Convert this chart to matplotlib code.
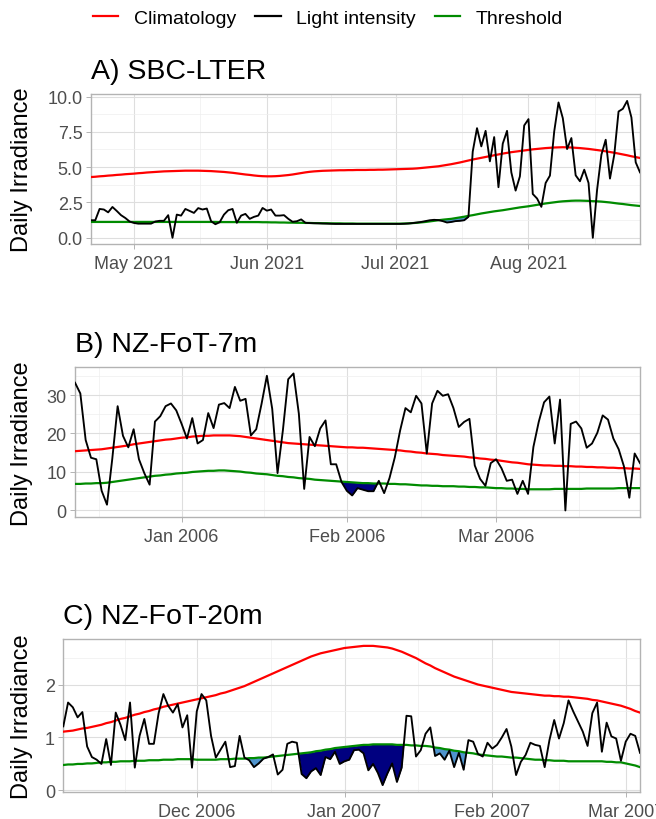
import numpy as np
import pandas as pd
import matplotlib
matplotlib.use("Agg")
import matplotlib.pyplot as plt
import matplotlib.dates as mdates
from matplotlib.lines import Line2D
from matplotlib.ticker import FixedLocator, FormatStrFormatter

plt.rcParams['font.family'] = ['Liberation Sans', 'DejaVu Sans']

# ---------------- data ----------------
titles = ["A) SBC-LTER", "B) NZ-FoT-7m", "C) NZ-FoT-20m"]
legend_labels = ["Climatology", "Light intensity", "Threshold"]

start_a = "2021-04-21"
light_a = [1.24, 1.24, 2.04, 2.00, 1.80, 2.18, 1.90, 1.60, 1.40, 1.15,
           1.05, 1.00, 1.00, 1.00, 1.00, 1.15, 1.20, 1.20, 1.60, 0.00,
           1.64, 1.57, 2.04, 1.90, 1.76, 2.10, 2.00, 2.07, 1.17, 0.96,
           1.10, 1.64, 1.95, 2.04, 1.06, 1.57, 1.69, 1.34, 1.48, 1.57,
           2.11, 1.92, 2.00, 1.57, 1.57, 1.60, 1.34, 1.13, 1.17, 1.30,
           1.06, 1.04, 1.03, 1.02, 1.01, 1.00, 0.99, 0.98, 0.98, 0.98,
           0.98, 0.98, 0.98, 0.98, 0.98, 0.98, 0.98, 0.98, 0.98, 0.98,
           0.98, 0.98, 0.98, 0.99, 1.01, 1.04, 1.08, 1.12, 1.18, 1.24,
           1.27, 1.25, 1.18, 1.08, 1.12, 1.18, 1.20, 1.24, 1.48, 6.10,
           7.76, 6.47, 7.57, 5.41, 7.13, 3.58, 6.66, 7.57, 4.63, 3.34,
           4.35, 7.95, 8.40, 3.10, 2.78, 2.19, 3.88, 4.40, 7.53, 9.58,
           8.47, 6.28, 7.06, 4.42, 4.00, 4.82, 3.88, 0.00, 3.41, 5.88,
           6.94, 4.19, 5.88, 8.94, 9.13, 9.69, 8.52, 5.34, 4.63]
clim_a = [4.30, 4.32, 4.35, 4.37, 4.40, 4.42, 4.45, 4.47, 4.50, 4.52,
          4.54, 4.57, 4.59, 4.62, 4.64, 4.66, 4.68, 4.70, 4.71, 4.72,
          4.73, 4.74, 4.75, 4.75, 4.75, 4.75, 4.74, 4.73, 4.72, 4.70,
          4.68, 4.66, 4.63, 4.60, 4.56, 4.52, 4.48, 4.45, 4.41, 4.38,
          4.36, 4.35, 4.35, 4.36, 4.38, 4.41, 4.44, 4.48, 4.53, 4.58,
          4.63, 4.67, 4.70, 4.72, 4.74, 4.75, 4.76, 4.77, 4.78, 4.78,
          4.79, 4.79, 4.80, 4.80, 4.80, 4.81, 4.81, 4.82, 4.82, 4.83,
          4.84, 4.85, 4.86, 4.87, 4.88, 4.89, 4.91, 4.94, 4.97, 5.00,
          5.03, 5.06, 5.11, 5.16, 5.21, 5.27, 5.33, 5.40, 5.47, 5.54,
          5.60, 5.66, 5.72, 5.78, 5.84, 5.90, 5.96, 6.01, 6.06, 6.10,
          6.14, 6.18, 6.22, 6.26, 6.29, 6.32, 6.35, 6.37, 6.39, 6.40,
          6.41, 6.40, 6.39, 6.37, 6.35, 6.32, 6.29, 6.25, 6.21, 6.17,
          6.12, 6.07, 6.02, 5.96, 5.90, 5.84, 5.77, 5.71, 5.65]
thresh_a = [1.12, 1.12, 1.12, 1.12, 1.12, 1.12, 1.12, 1.12, 1.12, 1.12,
            1.12, 1.12, 1.12, 1.12, 1.12, 1.12, 1.12, 1.12, 1.12, 1.12,
            1.12, 1.12, 1.12, 1.12, 1.12, 1.12, 1.12, 1.12, 1.12, 1.12,
            1.11, 1.11, 1.11, 1.11, 1.11, 1.11, 1.11, 1.11, 1.11, 1.11,
            1.10, 1.10, 1.09, 1.09, 1.08, 1.08, 1.07, 1.07, 1.06, 1.06,
            1.05, 1.05, 1.04, 1.04, 1.03, 1.03, 1.02, 1.02, 1.02, 1.01,
            1.01, 1.01, 1.00, 1.00, 1.00, 1.00, 1.00, 1.00, 1.00, 1.00,
            1.00, 1.00, 1.00, 1.01, 1.02, 1.04, 1.06, 1.09, 1.12, 1.16,
            1.20, 1.24, 1.28, 1.31, 1.34, 1.39, 1.44, 1.49, 1.55, 1.60,
            1.66, 1.72, 1.77, 1.82, 1.87, 1.91, 1.95, 2.00, 2.05, 2.10,
            2.15, 2.19, 2.23, 2.28, 2.33, 2.38, 2.43, 2.47, 2.51, 2.55,
            2.58, 2.60, 2.62, 2.63, 2.63, 2.62, 2.61, 2.59, 2.58, 2.56,
            2.53, 2.50, 2.46, 2.42, 2.39, 2.35, 2.31, 2.28, 2.25]
event_start_a = ["2021-07-10"]
event_end_a = ["2021-07-19"]
event_kind_a = ["minor"]

start_b = "2005-12-12"
light_b = [33.2, 30.4, 18.3, 13.7, 13.3, 5.1, 1.5, 13.5, 27.1, 19.4,
           16.4, 21.1, 13.3, 9.7, 6.7, 23.1, 24.5, 27.1, 27.8, 26.0,
           22.5, 18.7, 24.0, 17.4, 18.3, 25.3, 21.4, 27.5, 27.9, 26.6,
           32.1, 28.5, 29.0, 19.5, 21.1, 27.7, 35.0, 26.4, 9.7, 20.8,
           34.1, 35.6, 25.1, 5.6, 19.1, 16.7, 21.3, 23.4, 12.0, 12.0,
           7.4, 5.1, 3.9, 5.8, 5.4, 5.0, 5.0, 7.7, 4.5, 8.4,
           13.8, 20.8, 26.6, 25.5, 29.8, 27.8, 14.8, 27.8, 31.1, 29.8,
           30.2, 26.6, 21.7, 23.0, 23.8, 11.7, 8.2, 6.4, 12.3, 13.3,
           11.0, 7.7, 8.0, 4.3, 7.7, 4.3, 16.5, 23.0, 28.1, 29.6,
           17.4, 28.8, 0.0, 22.5, 23.1, 21.3, 16.3, 17.4, 20.2, 24.7,
           23.6, 18.7, 15.9, 11.4, 3.3, 14.8, 12.3]
clim_b = [15.4, 15.5, 15.6, 15.7, 15.8, 15.9, 16.1, 16.3, 16.5, 16.7,
          16.9, 17.2, 17.4, 17.6, 17.8, 18.0, 18.2, 18.4, 18.5, 18.7,
          18.9, 19.0, 19.2, 19.3, 19.4, 19.4, 19.5, 19.5, 19.5, 19.5,
          19.4, 19.3, 19.1, 18.9, 18.7, 18.5, 18.3, 18.1, 17.9, 17.7,
          17.5, 17.4, 17.3, 17.2, 17.1, 17.0, 16.9, 16.8, 16.7, 16.6,
          16.5, 16.4, 16.4, 16.3, 16.3, 16.2, 16.1, 16.0, 15.9, 15.8,
          15.7, 15.6, 15.4, 15.3, 15.1, 15.0, 14.8, 14.7, 14.6, 14.4,
          14.3, 14.2, 14.1, 14.0, 13.8, 13.7, 13.5, 13.4, 13.2, 13.1,
          12.9, 12.7, 12.5, 12.4, 12.2, 12.0, 11.9, 11.8, 11.7, 11.7,
          11.6, 11.6, 11.5, 11.5, 11.4, 11.4, 11.3, 11.3, 11.2, 11.2,
          11.1, 11.1, 11.0, 11.0, 10.9, 10.9, 10.8]
thresh_b = [6.9, 6.9, 7.0, 7.0, 7.1, 7.1, 7.2, 7.4, 7.6, 7.8,
            8.0, 8.2, 8.4, 8.6, 8.8, 9.0, 9.1, 9.3, 9.4, 9.6,
            9.7, 9.8, 10.0, 10.1, 10.2, 10.3, 10.3, 10.4, 10.4, 10.3,
            10.2, 10.1, 9.9, 9.8, 9.6, 9.5, 9.4, 9.2, 9.0, 8.9,
            8.7, 8.6, 8.4, 8.3, 8.2, 8.0, 7.9, 7.8, 7.7, 7.6,
            7.5, 7.4, 7.3, 7.2, 7.1, 7.1, 7.0, 7.0, 7.0, 6.9,
            6.9, 6.8, 6.8, 6.7, 6.6, 6.5, 6.5, 6.4, 6.4, 6.3,
            6.3, 6.3, 6.2, 6.2, 6.1, 6.1, 6.0, 6.0, 5.9, 5.8,
            5.8, 5.7, 5.7, 5.6, 5.6, 5.5, 5.5, 5.5, 5.5, 5.5,
            5.6, 5.6, 5.6, 5.6, 5.6, 5.6, 5.7, 5.7, 5.7, 5.7,
            5.7, 5.7, 5.8, 5.8, 5.8, 5.8, 5.8]
event_start_b = ["2006-01-30"]
event_end_b = ["2006-02-07"]
event_kind_b = ["top"]

start_c = "2006-11-03"
light_c = [1.21, 1.66, 1.57, 1.38, 1.48, 0.83, 0.63, 0.58, 0.50, 0.97,
           0.48, 1.47, 1.24, 0.95, 1.66, 0.43, 1.03, 1.35, 0.88, 0.88,
           1.46, 1.82, 1.60, 1.47, 1.63, 1.19, 1.42, 0.43, 1.49, 1.82,
           1.70, 1.03, 0.62, 0.77, 0.92, 0.44, 0.46, 1.03, 0.62, 0.57,
           0.44, 0.51, 0.60, 0.63, 0.68, 0.30, 0.39, 0.88, 0.92, 0.90,
           0.31, 0.23, 0.36, 0.42, 0.29, 0.63, 0.59, 0.73, 0.50, 0.55,
           0.58, 0.76, 0.77, 0.70, 0.38, 0.50, 0.33, 0.10, 0.32, 0.51,
           0.16, 0.43, 1.41, 1.40, 0.64, 0.76, 1.07, 1.19, 0.65, 0.70,
           0.58, 0.75, 0.44, 0.71, 0.39, 0.95, 0.92, 0.69, 0.64, 0.90,
           0.79, 0.86, 1.00, 1.16, 0.83, 0.29, 0.54, 0.67, 0.90, 0.86,
           0.84, 0.44, 0.95, 1.33, 0.98, 1.27, 1.70, 1.49, 1.30, 1.11,
           0.84, 1.46, 1.66, 0.73, 1.28, 1.02, 0.98, 0.56, 0.92, 1.07,
           1.03, 0.71]
clim_c = [1.11, 1.12, 1.13, 1.15, 1.17, 1.18, 1.20, 1.22, 1.24, 1.27,
          1.29, 1.32, 1.35, 1.37, 1.40, 1.43, 1.45, 1.48, 1.50, 1.53,
          1.55, 1.58, 1.60, 1.62, 1.64, 1.66, 1.68, 1.70, 1.72, 1.74,
          1.76, 1.78, 1.80, 1.83, 1.85, 1.88, 1.91, 1.94, 1.97, 2.01,
          2.05, 2.09, 2.13, 2.17, 2.21, 2.25, 2.29, 2.33, 2.37, 2.41,
          2.45, 2.49, 2.53, 2.56, 2.59, 2.61, 2.63, 2.65, 2.67, 2.69,
          2.70, 2.71, 2.72, 2.73, 2.73, 2.73, 2.72, 2.71, 2.70, 2.68,
          2.65, 2.62, 2.58, 2.54, 2.50, 2.45, 2.40, 2.36, 2.31, 2.27,
          2.23, 2.19, 2.15, 2.12, 2.09, 2.06, 2.03, 2.00, 1.98, 1.96,
          1.94, 1.92, 1.90, 1.88, 1.86, 1.85, 1.84, 1.83, 1.82, 1.81,
          1.80, 1.79, 1.79, 1.78, 1.78, 1.77, 1.77, 1.76, 1.75, 1.74,
          1.73, 1.71, 1.70, 1.68, 1.66, 1.64, 1.62, 1.60, 1.57, 1.54,
          1.50, 1.47]
thresh_c = [0.48, 0.49, 0.49, 0.50, 0.50, 0.51, 0.51, 0.52, 0.53, 0.53,
            0.54, 0.54, 0.55, 0.55, 0.55, 0.56, 0.56, 0.56, 0.57, 0.57,
            0.57, 0.58, 0.58, 0.58, 0.59, 0.59, 0.59, 0.59, 0.58, 0.58,
            0.58, 0.58, 0.58, 0.59, 0.59, 0.59, 0.60, 0.60, 0.60, 0.61,
            0.61, 0.62, 0.62, 0.63, 0.64, 0.65, 0.66, 0.67, 0.68, 0.69,
            0.70, 0.71, 0.72, 0.74, 0.75, 0.77, 0.78, 0.80, 0.81, 0.82,
            0.83, 0.84, 0.85, 0.86, 0.86, 0.87, 0.87, 0.87, 0.87, 0.87,
            0.86, 0.86, 0.86, 0.85, 0.85, 0.84, 0.84, 0.83, 0.81, 0.80,
            0.78, 0.77, 0.75, 0.74, 0.72, 0.71, 0.70, 0.68, 0.67, 0.66,
            0.65, 0.64, 0.64, 0.63, 0.62, 0.62, 0.61, 0.60, 0.59, 0.58,
            0.58, 0.57, 0.57, 0.56, 0.56, 0.56, 0.55, 0.55, 0.55, 0.55,
            0.55, 0.55, 0.55, 0.55, 0.54, 0.54, 0.53, 0.53, 0.51, 0.49,
            0.47, 0.44]
event_start_c = ["2006-12-11", "2006-12-22", "2007-01-19"]
event_end_c = ["2006-12-16", "2007-01-14", "2007-01-27"]
event_kind_c = ["minor", "top", "minor"]

yticks_a = [0.0, 2.5, 5.0, 7.5, 10.0]
yticks_b = [0, 10, 20, 30]
yticks_c = [0, 1, 2]

# ---------------- style ----------------
W, H = 656, 820
COL_CLIM = "#FF0000"
COL_LIGHT = "#000000"
COL_THRESH = "#008B00"
FILL = {"minor": "#4F94CD", "top": "#000080"}
GRID_MAJ = "#DEDEDE"
GRID_MIN = "#EEEEEE"
BORDER = "#B3B3B3"
TXT_AX = "#4D4D4D"

fig = plt.figure(figsize=(W / 100, H / 100), dpi=100)

# panel boxes in pixels: left, top, right, bottom
boxes = [(91, 94.7, 640, 244.7), (75, 368.3, 640, 518.3), (63.3, 640, 640, 793)]
ylims = [(-0.42, 10.2), (-1.78, 37.2), (-0.03, 2.86)]
fmt = ["%.1f", "%d", "%d"]

panels = [
    (start_a, light_a, clim_a, thresh_a, event_start_a, event_end_a, event_kind_a, yticks_a),
    (start_b, light_b, clim_b, thresh_b, event_start_b, event_end_b, event_kind_b, yticks_b),
    (start_c, light_c, clim_c, thresh_c, event_start_c, event_end_c, event_kind_c, yticks_c),
]

for k, (st, light, clim, thresh, es, ee, ekind, yt) in enumerate(panels):
    l, t, r, b = boxes[k]
    ax = fig.add_axes([l / W, 1 - b / H, (r - l) / W, (b - t) / H])
    dates = pd.date_range(st, periods=len(light), freq="D")
    x = mdates.date2num(dates.to_pydatetime())
    light = np.array(light)
    clim = np.array(clim)
    thresh = np.array(thresh)

    for s, e, kind in zip(es, ee, ekind):
        m = (dates >= pd.Timestamp(s)) & (dates <= pd.Timestamp(e))
        ax.fill_between(x[m], light[m], thresh[m], where=light[m] < thresh[m],
                        interpolate=True, color=FILL[kind], lw=0, zorder=2)

    ax.plot(x, thresh, color=COL_THRESH, lw=1.6, zorder=3)
    ax.plot(x, clim, color=COL_CLIM, lw=1.6, zorder=3)
    ax.plot(x, light, color=COL_LIGHT, lw=1.35, zorder=4)

    ax.set_xlim(x[0], x[-1])
    ax.set_ylim(*ylims[k])

    # date breaks: month starts, minor midway
    months = pd.date_range(dates[0] - pd.offsets.MonthBegin(2), dates[-1] + pd.offsets.MonthBegin(2), freq="MS")
    mnum = mdates.date2num(months.to_pydatetime())
    major = [v for v in mnum if x[0] <= v <= x[-1]]
    minor = [(a + c) / 2 for a, c in zip(mnum[:-1], mnum[1:])]
    minor = [v for v in minor if x[0] <= v <= x[-1]]
    ax.xaxis.set_major_locator(FixedLocator(major))
    ax.xaxis.set_minor_locator(FixedLocator(minor))
    ax.xaxis.set_major_formatter(mdates.DateFormatter("%b %Y"))

    ax.yaxis.set_major_locator(FixedLocator(yt))
    step = yt[1] - yt[0]
    ymin = [v + step / 2 for v in [yt[0] - step] + list(yt)]
    ymin = [v for v in ymin if ylims[k][0] <= v <= ylims[k][1]]
    ax.yaxis.set_minor_locator(FixedLocator(ymin))
    ax.yaxis.set_major_formatter(FormatStrFormatter(fmt[k]))

    ax.grid(which="major", color=GRID_MAJ, lw=0.8, zorder=0)
    ax.grid(which="minor", color=GRID_MIN, lw=0.5, zorder=0)
    ax.set_axisbelow(True)
    for sp in ax.spines.values():
        sp.set_color(BORDER)
        sp.set_linewidth(1.0)
    ax.tick_params(which="major", length=3.5, width=0.7, color=BORDER,
                   labelsize=13, labelcolor=TXT_AX)
    ax.tick_params(axis="x", which="major", pad=4.5)
    ax.tick_params(axis="y", which="major", pad=2.5)
    ax.tick_params(which="minor", length=0)

    fig.text(l / W, 1 - (t - 10) / H, titles[k], fontsize=20.5, ha="left", va="bottom")
    fig.text(22 / W, 1 - ((t + b) / 2) / H, "Daily Irradiance", fontsize=17,
             rotation=90, ha="center", va="center")

handles = [Line2D([], [], color=c, lw=1.6) for c in (COL_CLIM, COL_LIGHT, COL_THRESH)]
fig.legend(handles, legend_labels, loc="center", bbox_to_anchor=(0.5, 1 - 19 / H),
           ncol=3, frameon=False, fontsize=14, handlelength=1.3,
           columnspacing=1.0, handletextpad=0.8)

fig.savefig("out.png", dpi=100)
